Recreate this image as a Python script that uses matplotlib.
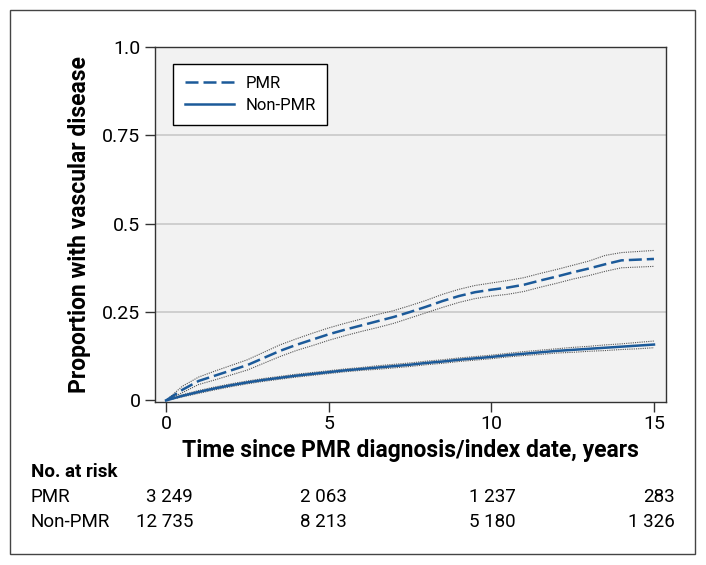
import matplotlib
matplotlib.use("Agg")
import numpy as np
from matplotlib import pyplot as plt
from matplotlib.patches import Rectangle

plt.rcParams['font.family'] = ['Roboto', 'DejaVu Sans']

# time points, years
years = [0, 0.5, 1, 1.5, 2, 2.5, 3, 3.5, 4, 4.5, 5, 5.5, 6, 6.5, 7, 7.5,
         8, 8.5, 9, 9.5, 10, 10.5, 11, 11.5, 12, 12.5, 13, 13.5, 14, 14.5, 15]

# cumulative proportion, PMR
pmr = [0, 0.030, 0.055, 0.070, 0.085, 0.100, 0.120, 0.140, 0.157, 0.172,
       0.187, 0.200, 0.212, 0.224, 0.236, 0.250, 0.265, 0.281, 0.295, 0.306,
       0.313, 0.319, 0.327, 0.339, 0.350, 0.362, 0.373, 0.385, 0.396, 0.398, 0.400]
pmr_upper = [0, 0.040, 0.066, 0.083, 0.099, 0.115, 0.136, 0.157, 0.174, 0.190,
             0.205, 0.218, 0.230, 0.243, 0.254, 0.268, 0.283, 0.300, 0.314, 0.325,
             0.332, 0.339, 0.347, 0.359, 0.370, 0.382, 0.394, 0.410, 0.418, 0.421, 0.424]
pmr_lower = [0, 0.022, 0.045, 0.058, 0.072, 0.086, 0.105, 0.124, 0.141, 0.155,
             0.170, 0.183, 0.195, 0.206, 0.218, 0.233, 0.248, 0.263, 0.277, 0.288,
             0.295, 0.300, 0.308, 0.320, 0.331, 0.343, 0.353, 0.365, 0.375, 0.377, 0.379]

# cumulative proportion, Non-PMR
nonpmr = [0, 0.013, 0.024, 0.034, 0.043, 0.051, 0.058, 0.064, 0.070, 0.075,
          0.080, 0.085, 0.089, 0.093, 0.097, 0.101, 0.106, 0.110, 0.115, 0.119,
          0.123, 0.128, 0.132, 0.136, 0.140, 0.143, 0.146, 0.149, 0.152, 0.155, 0.158]
nonpmr_upper = [0, 0.016, 0.028, 0.038, 0.047, 0.055, 0.062, 0.068, 0.074, 0.079,
                0.084, 0.089, 0.093, 0.098, 0.102, 0.106, 0.111, 0.115, 0.120, 0.124,
                0.128, 0.133, 0.138, 0.142, 0.146, 0.150, 0.153, 0.157, 0.160, 0.164, 0.168]
nonpmr_lower = [0, 0.010, 0.020, 0.030, 0.039, 0.047, 0.054, 0.060, 0.066, 0.071,
                0.076, 0.081, 0.085, 0.088, 0.092, 0.096, 0.101, 0.105, 0.110, 0.114,
                0.118, 0.123, 0.127, 0.130, 0.134, 0.136, 0.139, 0.141, 0.144, 0.146, 0.149]

# numbers at risk
risk_rows = ["PMR", "Non-PMR"]
risk_pmr = ["3 249", "2 063", "1 237", "283"]
risk_nonpmr = ["12 735", "8 213", "5 180", "1 326"]

x_ticks = [0, 5, 10, 15]
y_ticks = [0, 0.25, 0.5, 0.75, 1.0]
y_ticklabels = ["0", "0.25", "0.5", "0.75", "1.0"]

blue = "#1c5a99"
W, H = 706, 565

fig = plt.figure(figsize=(W / 100, H / 100), dpi=100)
ax = fig.add_axes([155 / W, 1 - 401.5 / H, 511 / W, 354.8 / H])
ax.set_facecolor("#f2f2f2")

#grid lines
for v in y_ticks[1:4]:
    ax.axhline(v, color="#c8c8c8", lw=1.2, zorder=1)

#confidence limits
for ci in [pmr_upper, pmr_lower, nonpmr_upper, nonpmr_lower]:
    ax.plot(years, ci, color="#555555", lw=0.8, ls=(0, (1, 1)), zorder=2)

ax.plot(years, pmr, color=blue, lw=1.8, ls=(0, (5.2, 2)), label="PMR", zorder=3)
ax.plot(years, nonpmr, color=blue, lw=1.8, label="Non-PMR", zorder=3)

ax.set_xlim(-0.34, 15.37)
ax.set_ylim(-0.003, 1.0)
ax.set_xticks(x_ticks)
ax.set_yticks(y_ticks)
ax.set_yticklabels(y_ticklabels)
ax.tick_params(length=7, width=1, color="#333333", labelsize=14)
ax.tick_params(axis="y", pad=3.5)
ax.tick_params(axis="x", pad=3)
for s in ax.spines.values():
    s.set_color("#333333")
    s.set_linewidth(1)

ax.set_xlabel("Time since PMR diagnosis/index date, years", fontsize=16.5,
              fontweight="bold", labelpad=4)
ax.set_ylabel("Proportion with vascular disease", fontsize=16.5,
              fontweight="bold", labelpad=8)

leg = ax.legend(loc="upper left", bbox_to_anchor=(0.035, 0.951), borderaxespad=0,
                fontsize=12, handlelength=2.95, handletextpad=0.7,
                labelspacing=0.45, borderpad=0.7, fancybox=False, framealpha=1)
leg.get_frame().set_edgecolor("black")
leg.get_frame().set_linewidth(1)

#no. at risk table
fig.text(31 / W, 1 - 471.7 / H, "No. at risk", fontsize=13.5, fontweight="bold",
         va="center", ha="left")
right_edges = [193, 347, 516, 675]
for row, vals, yy in zip(risk_rows, [risk_pmr, risk_nonpmr], [496.7, 521.7]):
    fig.text(31 / W, 1 - yy / H, row, fontsize=13.5, va="center", ha="left")
    for xr, v in zip(right_edges, vals):
        fig.text(xr / W, 1 - yy / H, v, fontsize=13.5, va="center", ha="right")

#outer frame
fig.patches.append(Rectangle((10 / W, 1 - 554 / H), 685 / W, 544 / H,
                             transform=fig.transFigure, fill=False,
                             edgecolor="#444444", lw=1))

fig.savefig("out.png", dpi=100)
